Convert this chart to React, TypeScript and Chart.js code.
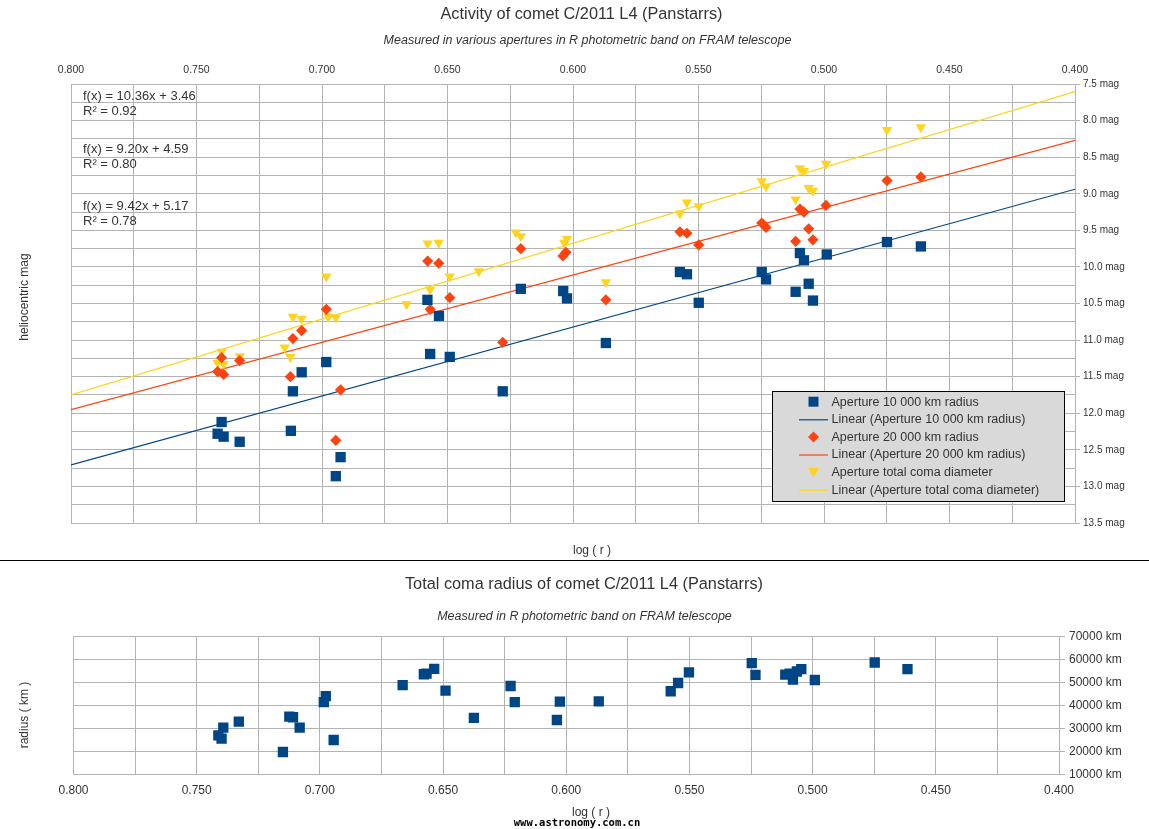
import React, { useEffect, useRef } from 'react';
import { Chart, registerables } from 'chart.js';

Chart.register(...registerables);

const FONT = '"Liberation Sans", Arial, sans-serif';
const BLUE = '#004586';
const RED = '#ff420e';
const YELLOW = '#ffd320';
const GRID = '#b3b3b3';
const TEXT = '#333333';

// ---- Top chart: heliocentric magnitude vs log(r) ----
const ap10LogR = [0.7400, 0.7416, 0.7392, 0.7328, 0.7124, 0.7116, 0.7081, 0.6983, 0.6926, 0.6945, 0.6580, 0.6534, 0.6569, 0.6491, 0.6208, 0.6280, 0.6039, 0.6024, 0.5869, 0.5574, 0.5546, 0.5499, 0.5248, 0.5231, 0.5113, 0.5096, 0.5080, 0.5061, 0.5044, 0.4989, 0.4749, 0.4614];
const ap10Mag = [12.12, 12.28, 12.32, 12.39, 12.24, 11.70, 11.44, 11.30, 12.60, 12.86, 10.45, 10.67, 11.19, 11.23, 10.30, 11.70, 10.33, 10.43, 11.04, 10.07, 10.10, 10.49, 10.07, 10.17, 10.34, 9.81, 9.91, 10.23, 10.46, 9.83, 9.66, 9.72];

const ap20LogR = [0.7400, 0.7416, 0.7392, 0.7328, 0.7116, 0.7081, 0.7126, 0.6983, 0.6926, 0.6945, 0.6579, 0.6535, 0.6491, 0.6569, 0.6208, 0.6280, 0.6040, 0.6028, 0.5869, 0.5574, 0.5546, 0.5499, 0.5248, 0.5231, 0.5113, 0.5096, 0.5080, 0.5061, 0.5044, 0.4992, 0.4749, 0.4614];
const ap20Mag = [11.24, 11.43, 11.47, 11.28, 10.98, 10.87, 11.50, 10.58, 11.68, 12.37, 9.92, 9.95, 10.42, 10.58, 9.75, 11.03, 9.85, 9.80, 10.45, 9.52, 9.54, 9.70, 9.40, 9.46, 9.65, 9.21, 9.25, 9.48, 9.63, 9.16, 8.82, 8.77];

const comaLogR = [0.7400, 0.7416, 0.7392, 0.7328, 0.7149, 0.7126, 0.7116, 0.7081, 0.6983, 0.6975, 0.6945, 0.6579, 0.6535, 0.6491, 0.6569, 0.6663, 0.6375, 0.6228, 0.6208, 0.6035, 0.6024, 0.5869, 0.5574, 0.5546, 0.5499, 0.5248, 0.5231, 0.5113, 0.5096, 0.5080, 0.5061, 0.5044, 0.4992, 0.4749, 0.4614];
const comaMag = [11.16, 11.31, 11.33, 11.22, 11.10, 11.23, 10.68, 10.71, 10.13, 10.68, 10.69, 9.68, 9.67, 10.13, 10.31, 10.51, 10.06, 9.53, 9.58, 9.67, 9.62, 10.21, 9.27, 9.12, 9.17, 8.83, 8.90, 9.08, 8.65, 8.69, 8.92, 8.96, 8.59, 8.13, 8.09];

// Linear trend lines (blue, red, yellow) as shown by the f(x) labels
const trendSlope = [9.42, 9.20, 10.36];
const trendIntercept = [5.17, 4.59, 3.46];
const trendR2 = [0.78, 0.80, 0.92];
const trendRange = [0.8, 0.4];

const seriesNames = ['Aperture 10 000 km radius', 'Aperture 20 000 km radius', 'Aperture total coma diameter'];

// ---- Bottom chart: total coma radius vs log(r) ----
const radiusLogR = [0.7412, 0.7392, 0.7399, 0.7329, 0.7124, 0.7109, 0.7082, 0.7150, 0.6976, 0.6984, 0.6944, 0.6664, 0.6578, 0.6567, 0.6536, 0.6490, 0.6375, 0.6226, 0.6209, 0.6026, 0.6038, 0.5868, 0.5576, 0.5546, 0.5502, 0.5247, 0.5232, 0.5111, 0.5093, 0.5080, 0.5064, 0.5046, 0.4991, 0.4748, 0.4615];
const radiusKm = [26950, 30300, 25500, 32900, 35100, 34800, 30300, 19700, 44000, 41400, 24900, 48800, 53500, 53800, 55800, 46400, 34500, 48400, 41400, 41600, 33600, 41700, 46100, 49700, 54300, 58300, 53200, 53300, 53800, 51200, 54700, 55700, 51000, 58600, 55700];

const pts = (xs: number[], ys: number[]) => xs.map((x, i) => ({ x, y: ys[i] }));
const trendPts = (i: number) => trendRange.map((x) => ({ x, y: trendSlope[i] * x + trendIntercept[i] }));

type TextItem = { text: string; x: number; y: number; font: string; color?: string; align?: CanvasTextAlign; rotate?: number };

const textPlugin = (items: TextItem[]) => ({
  id: 'texts',
  afterDraw(chart: any) {
    const ctx: CanvasRenderingContext2D = chart.ctx;
    items.forEach((t) => {
      ctx.save();
      ctx.font = t.font;
      ctx.fillStyle = t.color || TEXT;
      ctx.textAlign = t.align || 'center';
      ctx.textBaseline = 'middle';
      ctx.translate(t.x, t.y);
      if (t.rotate) ctx.rotate(t.rotate);
      ctx.fillText(t.text, 0, 0);
      ctx.restore();
    });
  },
});

const drawMarker = (ctx: CanvasRenderingContext2D, style: string, x: number, y: number, color: string) => {
  ctx.fillStyle = color;
  ctx.beginPath();
  if (style === 'rect') {
    ctx.rect(x - 5, y - 5, 10, 10);
  } else if (style === 'rectRot') {
    ctx.moveTo(x, y - 5.5);
    ctx.lineTo(x + 5.5, y);
    ctx.lineTo(x, y + 5.5);
    ctx.lineTo(x - 5.5, y);
    ctx.closePath();
  } else {
    ctx.moveTo(x - 5.5, y - 4);
    ctx.lineTo(x + 5.5, y - 4);
    ctx.lineTo(x, y + 5.5);
    ctx.closePath();
  }
  ctx.fill();
};

const legendPlugin = {
  id: 'boxLegend',
  afterDraw(chart: any) {
    const ctx: CanvasRenderingContext2D = chart.ctx;
    const order = [0, 3, 1, 4, 2, 5];
    const box = { x: 772.5, y: 391.5, w: 292, h: 110 };
    ctx.save();
    ctx.fillStyle = '#d9d9d9';
    ctx.fillRect(box.x, box.y, box.w, box.h);
    ctx.strokeStyle = '#000';
    ctx.lineWidth = 1;
    ctx.strokeRect(box.x, box.y, box.w, box.h);
    ctx.font = `12.5px ${FONT}`;
    ctx.textBaseline = 'middle';
    ctx.textAlign = 'left';
    order.forEach((di, row) => {
      const ds = chart.data.datasets[di];
      const cy = 401.7 + row * 17.6;
      if (ds.showLine) {
        ctx.strokeStyle = ds.borderColor;
        ctx.lineWidth = 1.2;
        ctx.beginPath();
        ctx.moveTo(799, cy + 0.5);
        ctx.lineTo(828, cy + 0.5);
        ctx.stroke();
      } else {
        drawMarker(ctx, ds.pointStyle, 813.5, cy, ds.backgroundColor);
      }
      ctx.fillStyle = TEXT;
      ctx.fillText(ds.label, 831.5, cy + 0.5);
    });
    ctx.restore();
  },
};

const eqText = (i: number) => `f(x) = ${trendSlope[i].toFixed(2)}x + ${trendIntercept[i].toFixed(2)}`;
const r2Text = (i: number) => `R² = ${trendR2[i].toFixed(2)}`;

const topTexts: TextItem[] = [
  { text: 'Activity of comet C/2011 L4 (Panstarrs)', x: 581.5, y: 15, font: `16.3px ${FONT}` },
  { text: 'Measured in various apertures in R photometric band on FRAM telescope', x: 587.5, y: 41, font: `italic 12.5px ${FONT}` },
  { text: eqText(2), x: 83, y: 96.5, font: `13px ${FONT}`, align: 'left' },
  { text: r2Text(2), x: 83, y: 111, font: `13px ${FONT}`, align: 'left' },
  { text: eqText(1), x: 83, y: 149, font: `13px ${FONT}`, align: 'left' },
  { text: r2Text(1), x: 83, y: 164, font: `13px ${FONT}`, align: 'left' },
  { text: eqText(0), x: 83, y: 206.5, font: `13px ${FONT}`, align: 'left' },
  { text: r2Text(0), x: 83, y: 221, font: `13px ${FONT}`, align: 'left' },
  { text: 'heliocentric mag', x: 25, y: 297, font: `12px ${FONT}`, rotate: -Math.PI / 2 },
  { text: 'log ( r )', x: 592, y: 551, font: `12px ${FONT}` },
];

const bottomTexts: TextItem[] = [
  { text: 'Total coma radius of comet C/2011 L4 (Panstarrs)', x: 584, y: 24, font: `16.3px ${FONT}` },
  { text: 'Measured in R photometric band on FRAM telescope', x: 584.5, y: 56, font: `italic 12.5px ${FONT}` },
  { text: 'radius ( km )', x: 25, y: 154, font: `12px ${FONT}`, rotate: -Math.PI / 2 },
  { text: 'log ( r )', x: 591, y: 252, font: `12px ${FONT}` },
  { text: 'www.astronomy.com.cn', x: 577, y: 262.5, font: `bold 10.5px "DejaVu Sans Mono", monospace`, color: '#000' },
];

const markerDs = (label: string, xs: number[], ys: number[], color: string, style: string, radius: number, rotation = 0) => ({
  label,
  data: pts(xs, ys),
  pointStyle: style,
  pointRadius: radius,
  pointRotation: rotation,
  backgroundColor: color,
  borderColor: color,
  pointBorderWidth: 0,
  showLine: false,
});

const lineDs = (i: number, color: string) => ({
  label: `Linear (${seriesNames[i]})`,
  data: trendPts(i),
  showLine: true,
  borderColor: color,
  backgroundColor: color,
  borderWidth: 1.2,
  pointRadius: 0,
  pointStyle: 'line',
});

export default function App() {
  const topRef = useRef<HTMLCanvasElement>(null);
  const botRef = useRef<HTMLCanvasElement>(null);

  useEffect(() => {
    const top = new Chart(topRef.current as HTMLCanvasElement, {
      type: 'scatter',
      data: {
        datasets: [
          markerDs(seriesNames[0], ap10LogR, ap10Mag, BLUE, 'rect', 7.3),
          markerDs(seriesNames[1], ap20LogR, ap20Mag, RED, 'rectRot', 5.6),
          markerDs(seriesNames[2], comaLogR, comaMag, YELLOW, 'triangle', 6, 180),
          lineDs(0, BLUE),
          lineDs(1, RED),
          lineDs(2, YELLOW),
        ] as any,
      },
      options: {
        animation: false,
        responsive: false,
        devicePixelRatio: 1,
        layout: { padding: { left: 71, top: 0, right: 0, bottom: 37 } },
        plugins: { legend: { display: false }, title: { display: false }, tooltip: { enabled: false } },
        scales: {
          x: {
            type: 'linear',
            position: 'top',
            min: 0.4,
            max: 0.8,
            reverse: true,
            ticks: {
              stepSize: 0.025,
              autoSkip: false,
              maxRotation: 0,
              padding: 8,
              color: TEXT,
              font: { family: FONT, size: 10.5 },
              callback: (v: any) => (Math.round(Number(v) * 1000) % 50 === 0 ? Number(v).toFixed(3) : ''),
            },
            grid: { color: GRID, drawTicks: false },
            border: { color: GRID },
            afterFit: (s: any) => { s.height = 84; },
          },
          y: {
            type: 'linear',
            position: 'right',
            min: 7.5,
            max: 13.5,
            reverse: true,
            ticks: {
              stepSize: 0.25,
              autoSkip: false,
              padding: 3,
              color: TEXT,
              font: { family: FONT, size: 10 },
              callback: (v: any) => (Math.round(Number(v) * 100) % 50 === 0 ? `${Number(v).toFixed(1)} mag` : ''),
            },
            grid: {
              color: GRID,
              tickLength: 5,
              tickColor: (c: any) => (c.tick && Math.round(c.tick.value * 100) % 50 === 0 ? GRID : 'rgba(0,0,0,0)'),
            },
            border: { color: GRID },
            afterFit: (s: any) => { s.width = 74; },
          },
        },
      } as any,
      plugins: [textPlugin(topTexts), legendPlugin],
    });

    const bottom = new Chart(botRef.current as HTMLCanvasElement, {
      type: 'scatter',
      data: {
        datasets: [markerDs('Total coma radius', radiusLogR, radiusKm, BLUE, 'rect', 7.3)] as any,
      },
      options: {
        animation: false,
        responsive: false,
        devicePixelRatio: 1,
        layout: { padding: { left: 73.5, top: 75.3, right: 0, bottom: 24.7 } },
        plugins: { legend: { display: false }, title: { display: false }, tooltip: { enabled: false } },
        scales: {
          x: {
            type: 'linear',
            position: 'bottom',
            min: 0.4,
            max: 0.8,
            reverse: true,
            ticks: {
              stepSize: 0.025,
              autoSkip: false,
              maxRotation: 0,
              padding: 9,
              color: TEXT,
              font: { family: FONT, size: 12 },
              callback: (v: any) => (Math.round(Number(v) * 1000) % 50 === 0 ? Number(v).toFixed(3) : ''),
            },
            grid: { color: GRID, drawTicks: false },
            border: { color: GRID },
            afterFit: (s: any) => { s.height = 30; },
          },
          y: {
            type: 'linear',
            position: 'right',
            min: 10000,
            max: 70000,
            ticks: {
              stepSize: 10000,
              padding: 4,
              color: TEXT,
              font: { family: FONT, size: 12 },
              callback: (v: any) => `${v} km`,
            },
            grid: { color: GRID, tickLength: 6, tickColor: GRID },
            border: { color: GRID },
            afterFit: (s: any) => { s.width = 90; },
          },
        },
      } as any,
      plugins: [textPlugin(bottomTexts)],
    });

    return () => {
      top.destroy();
      bottom.destroy();
    };
  }, []);

  return (
    <div style={{ position: 'absolute', left: 0, top: 0, width: 1149, height: 829, background: '#fff', overflow: 'hidden' }}>
      <canvas ref={topRef} width={1149} height={560} style={{ position: 'absolute', left: 0, top: 0, width: 1149, height: 560 }} />
      <div style={{ position: 'absolute', left: 0, top: 560, width: 1149, height: 1, background: '#000' }} />
      <canvas ref={botRef} width={1149} height={268} style={{ position: 'absolute', left: 0, top: 561, width: 1149, height: 268 }} />
    </div>
  );
}
